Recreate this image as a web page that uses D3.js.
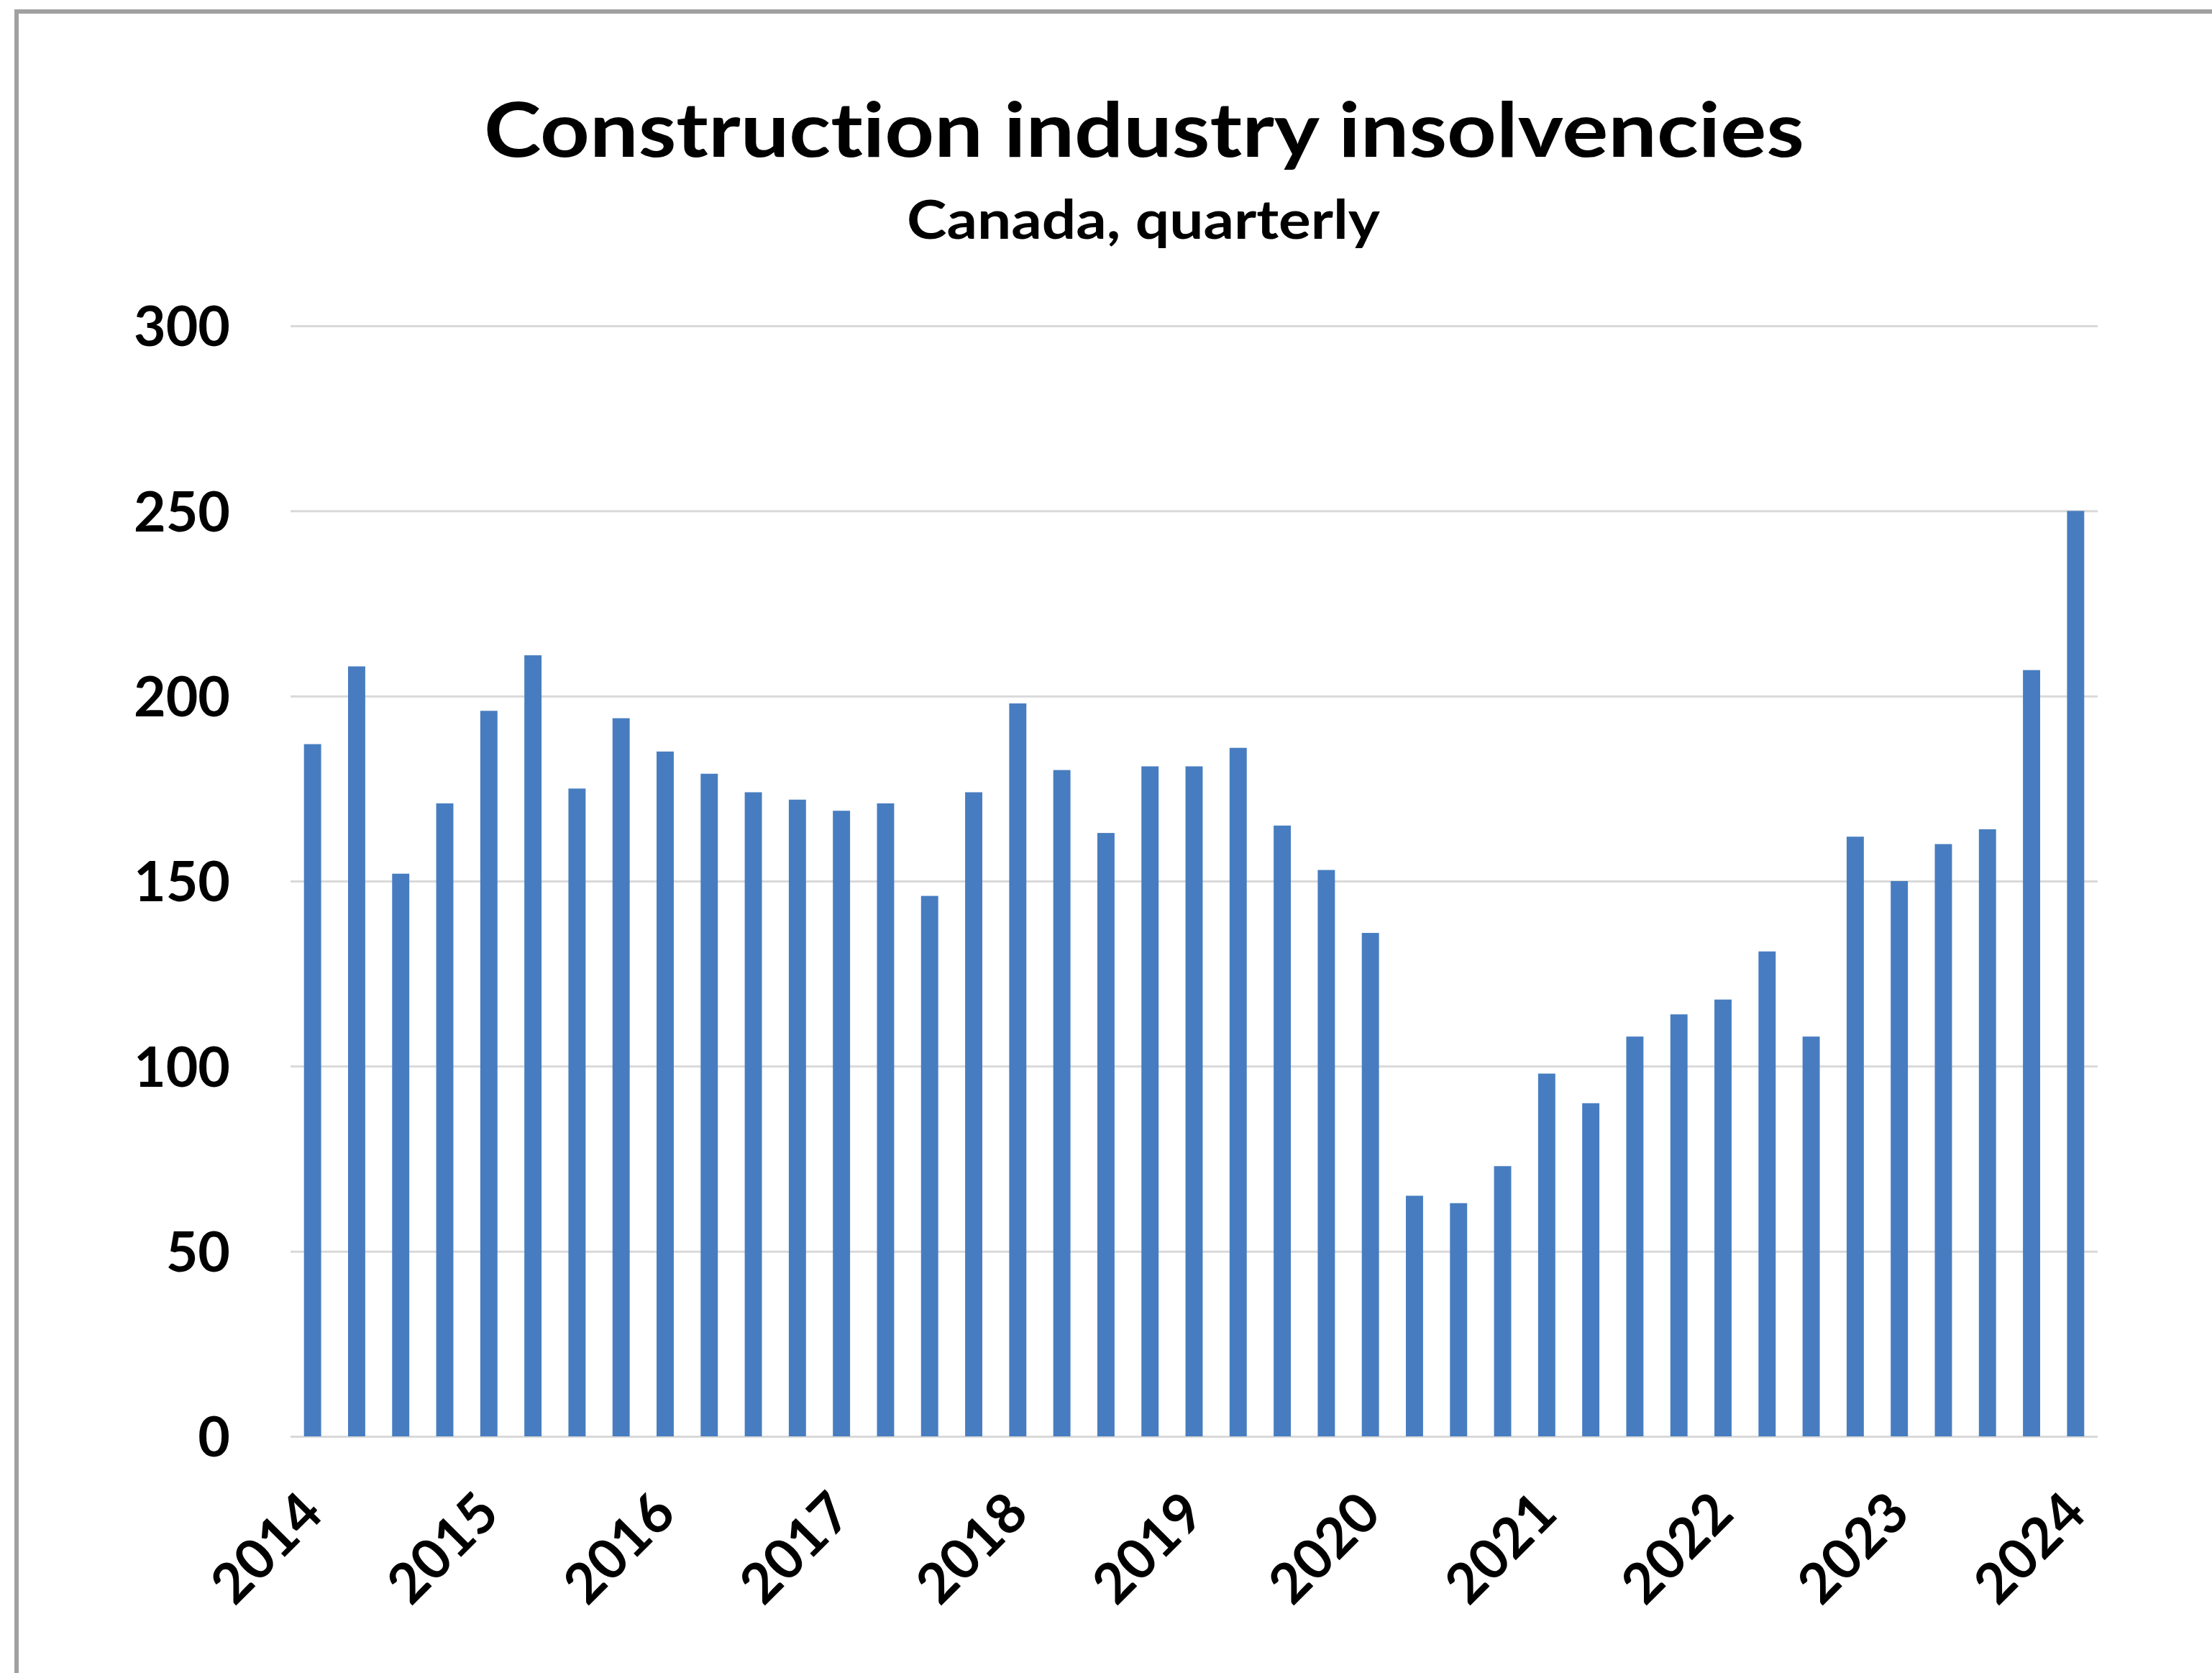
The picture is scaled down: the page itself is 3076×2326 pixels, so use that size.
<!DOCTYPE html>
<html>
<head>
<meta charset="utf-8">
<script src="https://cdn.jsdelivr.net/npm/d3@7/dist/d3.min.js"></script>
<style>
  html, body { margin: 0; padding: 0; background: #ffffff; }
  svg { display: block; }
  text {
    font-family: Lato, "Open Sans", "Noto Sans", sans-serif;
    font-weight: 700;
    fill: #000;
    font-variant-ligatures: none;
    font-feature-settings: "liga" 0, "clig" 0;
  }
</style>
</head>
<body>
<svg id="chart"></svg>
<script>
// Quarterly categories, 2014 Q1 through 2024 Q1
const quarters = [
  "2014Q1","2014Q2","2014Q3","2014Q4",
  "2015Q1","2015Q2","2015Q3","2015Q4",
  "2016Q1","2016Q2","2016Q3","2016Q4",
  "2017Q1","2017Q2","2017Q3","2017Q4",
  "2018Q1","2018Q2","2018Q3","2018Q4",
  "2019Q1","2019Q2","2019Q3","2019Q4",
  "2020Q1","2020Q2","2020Q3","2020Q4",
  "2021Q1","2021Q2","2021Q3","2021Q4",
  "2022Q1","2022Q2","2022Q3","2022Q4",
  "2023Q1","2023Q2","2023Q3","2023Q4",
  "2024Q1"
];

// Number of construction industry insolvencies per quarter
const insolvencies = [
  187, 208, 152, 171,
  196, 211, 175, 194,
  185, 179, 174, 172,
  169, 171, 146, 174,
  198, 180, 163, 181,
  181, 186, 165, 153,
  136, 65, 63, 73,
  98, 90, 108, 114,
  118, 131, 108, 162,
  150, 160, 164, 207,
  250
];

// Axis labels
const yearLabels = ["2014","2015","2016","2017","2018","2019","2020","2021","2022","2023","2024"];
const yTicks = [0, 50, 100, 150, 200, 250, 300];

const titleText = "Construction industry insolvencies";
const subtitleText = "Canada, quarterly";

const W = 3076, H = 2326;
const plot = { left: 404, right: 2917, top: 453, bottom: 1997 };

const svg = d3.select("#chart").attr("width", W).attr("height", H);
svg.append("rect").attr("width", W).attr("height", H).attr("fill", "#ffffff");

// outer frame of the chart area
svg.append("rect")
  .attr("x", 23).attr("y", 16)
  .attr("width", W + 40).attr("height", H + 40)
  .attr("fill", "none")
  .attr("stroke", "#a0a0a0")
  .attr("stroke-width", 6);

const x = d3.scaleBand()
  .domain(quarters)
  .range([plot.left, plot.right])
  .paddingInner(0.61)
  .paddingOuter(0.305);

const y = d3.scaleLinear()
  .domain([0, 300])
  .range([plot.bottom, plot.top]);

// horizontal gridlines + value labels
const yAxis = d3.axisLeft(y)
  .tickValues(yTicks)
  .tickSize(-(plot.right - plot.left))
  .tickPadding(84)
  .tickFormat(d3.format("d"));

const gy = svg.append("g")
  .attr("transform", `translate(${plot.left},0)`)
  .call(yAxis);
gy.select(".domain").remove();
gy.selectAll(".tick line")
  .attr("stroke", "#d9d9d9")
  .attr("stroke-width", 3);
gy.selectAll(".tick text")
  .attr("font-size", 77)
  .attr("dy", "0.36em")
  .attr("fill", "#000");

// bars
svg.append("g")
  .selectAll("rect")
  .data(insolvencies)
  .join("rect")
  .attr("x", (d, i) => x(quarters[i]))
  .attr("width", x.bandwidth())
  .attr("y", d => y(d))
  .attr("height", d => y(0) - y(d))
  .attr("fill", "#477dc0");

// year labels under each first quarter, rotated
const xAxis = d3.axisBottom(x)
  .tickValues(yearLabels.map(yr => yr + "Q1"))
  .tickFormat(q => q.slice(0, 4))
  .tickSize(0)
  .tickPadding(0);

const gx = svg.append("g")
  .attr("transform", `translate(0,${plot.bottom})`)
  .call(xAxis);
gx.select(".domain").remove();
gx.selectAll(".tick text")
  .attr("font-size", 77)
  .attr("text-anchor", "end")
  .attr("dy", null)
  .attr("y", null)
  .attr("transform", "translate(18,111) rotate(-45)")
  .attr("fill", "#000");

// title and subtitle
svg.append("text")
  .attr("x", 1591).attr("y", 218)
  .attr("text-anchor", "middle")
  .attr("font-size", 106)
  .attr("textLength", 1836)
  .attr("lengthAdjust", "spacingAndGlyphs")
  .text(titleText);

svg.append("text")
  .attr("x", 1590).attr("y", 332)
  .attr("text-anchor", "middle")
  .attr("font-size", 74)
  .attr("textLength", 658)
  .attr("lengthAdjust", "spacingAndGlyphs")
  .text(subtitleText);
</script>
</body>
</html>
